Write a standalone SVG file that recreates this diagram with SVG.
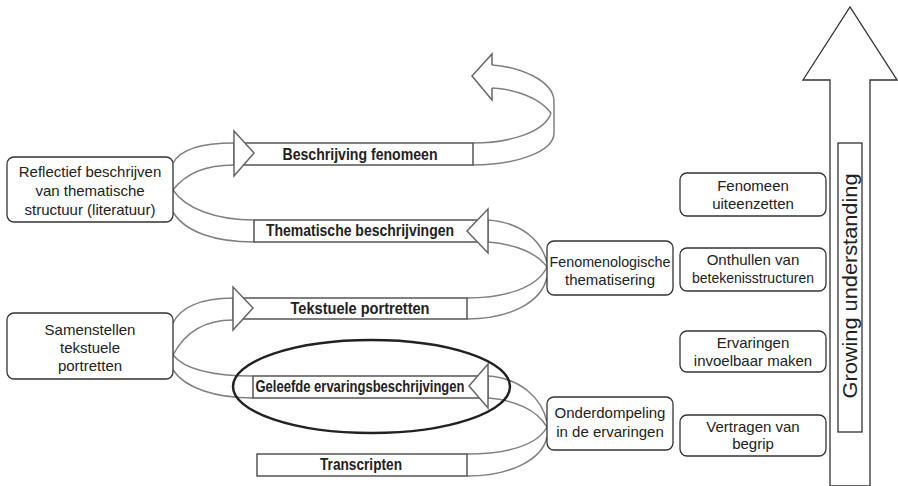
<svg xmlns="http://www.w3.org/2000/svg" width="898" height="486" viewBox="0 0 898 486">
<style>
.box{fill:#fff;stroke:#333;stroke-width:1.3}
.band{fill:#fff;stroke:#555;stroke-width:1.5}
.curve{fill:none;stroke:#808080;stroke-width:1.5}
.head{fill:#fff;stroke:#666;stroke-width:1.5;stroke-linejoin:miter}
.t{font-family:"Liberation Sans",Arial,sans-serif;font-size:15px;fill:#222;text-anchor:middle}
.b{font-family:"Liberation Sans",Arial,sans-serif;font-size:16px;font-weight:bold;fill:#222;text-anchor:middle}
</style>
<rect width="898" height="486" fill="#fff"/>

<g id="connectors">
  <path class="curve" d="M473,143 C510,143 545,132 551,113"/>
  <path class="curve" d="M473,165 C515,165 554,152 554,133 L554,100"/>
  <path class="curve" d="M554,100 C552,80 520,67 492,65"/>
  <path class="curve" d="M551,113 C540,98 515,89 492,88"/>
  <path class="head" fill="none" d="M492,65 L492,54 L472,76 L492,100 L492,88"/>
  <path class="curve" d="M173,163 C180,150 200,143 234,143"/>
  <path class="curve" d="M173,190 C185,174 205,165 234,165"/>
  <path class="curve" d="M173,190 C185,208 215,220 254,220"/>
  <path class="curve" d="M173,212 C185,232 215,242 254,242"/>
  <path class="curve" d="M488,220 C520,222 542,240 547,263"/>
  <path class="curve" d="M488,242 C515,244 537,253 547,267"/>
  <path class="curve" d="M467,298 C505,298 537,288 547,267"/>
  <path class="curve" d="M467,319 C510,319 542,302 547,277"/>
  <path class="curve" d="M173,323 C180,308 200,298 233,298"/>
  <path class="curve" d="M173,355 C185,332 205,320 233,320"/>
  <path class="curve" d="M173,355 C185,370 215,376 253,376"/>
  <path class="curve" d="M173,370 C185,388 215,398 253,398"/>
  <path class="curve" d="M488,376 C520,378 542,398 547,422"/>
  <path class="curve" d="M488,398 C515,400 537,410 547,427"/>
  <path class="curve" d="M467,454 C505,454 537,446 547,427"/>
  <path class="curve" d="M467,476 C510,476 542,460 547,437"/>
</g>

<g id="band-beschrijving">
  <rect class="band" x="234" y="143" width="239" height="22"/>
  <polygon class="head" points="234,131 254,153 234,176"/>
  <text class="b" x="360" y="160" textLength="155" lengthAdjust="spacingAndGlyphs">Beschrijving fenomeen</text>
</g>
<g id="band-thematische">
  <rect class="band" x="254" y="220" width="234" height="22"/>
  <polygon class="head" points="488,209 467,231 488,253"/>
  <text class="b" x="360" y="236" textLength="188" lengthAdjust="spacingAndGlyphs">Thematische beschrijvingen</text>
</g>
<g id="band-tekstuele">
  <rect class="band" x="233" y="298" width="234" height="21"/>
  <polygon class="head" points="233,287 253,308 233,330"/>
  <text class="b" x="360" y="314" textLength="139" lengthAdjust="spacingAndGlyphs">Tekstuele portretten</text>
</g>
<g id="band-geleefde">
  <rect class="band" x="253" y="376" width="235" height="22"/>
  <polygon class="head" points="488,364 469,386 488,408"/>
  <text class="b" x="360" y="392" textLength="209" lengthAdjust="spacingAndGlyphs">Geleefde ervaringsbeschrijvingen</text>
  <ellipse cx="371.5" cy="386.5" rx="138.5" ry="46.5" fill="none" stroke="#222" stroke-width="2.5"/>
</g>
<g id="band-transcripten">
  <rect class="band" x="257" y="454" width="210" height="22"/>
  <text class="b" x="361" y="470" textLength="82" lengthAdjust="spacingAndGlyphs">Transcripten</text>
</g>

<g id="node-reflectief">
  <rect class="box" x="7" y="157" width="166" height="65" rx="7"/>
  <text class="t" x="90" y="177">Reflectief beschrijven</text>
  <text class="t" x="90" y="196">van thematische</text>
  <text class="t" x="90" y="215">structuur (literatuur)</text>
</g>
<g id="node-samenstellen">
  <rect class="box" x="7" y="313" width="166" height="66" rx="7"/>
  <text class="t" x="90" y="335">Samenstellen</text>
  <text class="t" x="90" y="353">tekstuele</text>
  <text class="t" x="90" y="371">portretten</text>
</g>
<g id="node-fenomenologische">
  <rect class="box" x="547" y="241" width="126" height="54" rx="7"/>
  <text class="t" x="610" y="267" textLength="121" lengthAdjust="spacingAndGlyphs">Fenomenologische</text>
  <text class="t" x="610" y="285">thematisering</text>
</g>
<g id="node-onderdompeling">
  <rect class="box" x="547" y="397" width="126" height="53" rx="7"/>
  <text class="t" x="610" y="418">Onderdompeling</text>
  <text class="t" x="610" y="437">in de ervaringen</text>
</g>

<g id="node-fenomeen">
  <rect class="box" x="680" y="173" width="146" height="43" rx="7"/>
  <text class="t" x="753" y="191">Fenomeen</text>
  <text class="t" x="753" y="209">uiteenzetten</text>
</g>
<g id="node-onthullen">
  <rect class="box" x="680" y="248" width="146" height="43" rx="7"/>
  <text class="t" x="753" y="265">Onthullen van</text>
  <text class="t" x="753" y="283" textLength="122" lengthAdjust="spacingAndGlyphs">betekenisstructuren</text>
</g>
<g id="node-ervaringen">
  <rect class="box" x="680" y="331" width="146" height="41" rx="7"/>
  <text class="t" x="753" y="348">Ervaringen</text>
  <text class="t" x="753" y="366">invoelbaar maken</text>
</g>
<g id="node-vertragen">
  <rect class="box" x="680" y="415" width="146" height="41" rx="7"/>
  <text class="t" x="753" y="432">Vertragen van</text>
  <text class="t" x="753" y="449">begrip</text>
</g>

<g id="growing-arrow">
  <polygon points="830,486 830,80 803,80 850,7 897,80 870,80 870,486" fill="#fff" stroke="#333" stroke-width="1.3"/>
  <rect x="838" y="143" width="24" height="289" fill="#fff" stroke="#333" stroke-width="1.3"/>
  <text transform="translate(857,286) rotate(-90)" x="0" y="0" font-family="Liberation Sans, Arial, sans-serif" font-size="21" fill="#222" text-anchor="middle" textLength="225" lengthAdjust="spacingAndGlyphs">Growing understanding</text>
</g>
</svg>
